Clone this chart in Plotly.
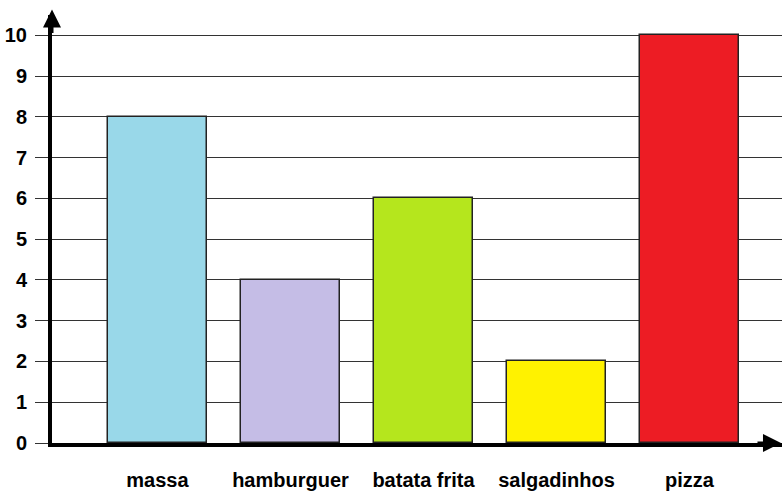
import plotly.graph_objects as go

categories = ["massa", "hamburguer", "batata frita", "salgadinhos", "pizza"]
values = [8, 4, 6, 2, 10]
colors = ["#99d8e9", "#c5bde6", "#b5e61d", "#fff200", "#ed1c24"]
y_ticks = list(range(0, 11))

x_pos = list(range(len(categories)))

fig = go.Figure(go.Bar(
    x=x_pos, y=values, width=0.745,
    marker=dict(color=colors, line=dict(color="#222222", width=1.5)),
))

x_lo, x_hi = -0.793, 4.695
y_lo, y_hi = 0, 10.5

fig.update_layout(
    width=782, height=493,
    margin=dict(l=52, r=0, t=15, b=50),
    plot_bgcolor="white", paper_bgcolor="white",
    showlegend=False,
    font=dict(family="Liberation Sans, Arial, sans-serif", color="black"),
    bargap=0,
)
fig.update_xaxes(
    range=[x_lo, x_hi], tickmode="array", tickvals=x_pos,
    ticktext=[f"<b>{c}</b>" for c in categories],
    tickfont=dict(size=20, color="black"),
    showgrid=False, zeroline=False,
    showline=True, linecolor="black", linewidth=4,
    ticks="", ticklabelstandoff=16, automargin=False,
)
fig.update_yaxes(
    range=[y_lo, y_hi], tickmode="array", tickvals=y_ticks,
    ticktext=[f"<b>{t}</b>" for t in y_ticks],
    tickfont=dict(size=20, color="black"),
    showgrid=True, gridcolor="#333333", gridwidth=1.3,
    zeroline=False,
    showline=True, linecolor="black", linewidth=4,
    ticks="outside", ticklen=13, tickcolor="#333333", tickwidth=1.3,
    ticklabelstandoff=4, automargin=False,
)
# arrowheads
fig.add_annotation(x=0, y=1.013, xref="paper", yref="paper", ax=0, ay=25,
                   showarrow=True, arrowhead=2, arrowsize=1.2, arrowwidth=3,
                   arrowcolor="black", text="")
fig.add_annotation(x=0.9986, y=0, xref="paper", yref="paper", ax=-25, ay=0,
                   showarrow=True, arrowhead=2, arrowsize=1.2, arrowwidth=3,
                   arrowcolor="black", text="")

fig.write_html("out.html", config={"displayModeBar": False},
               post_script="document.body.style.margin='0';document.body.style.overflow='hidden';")
